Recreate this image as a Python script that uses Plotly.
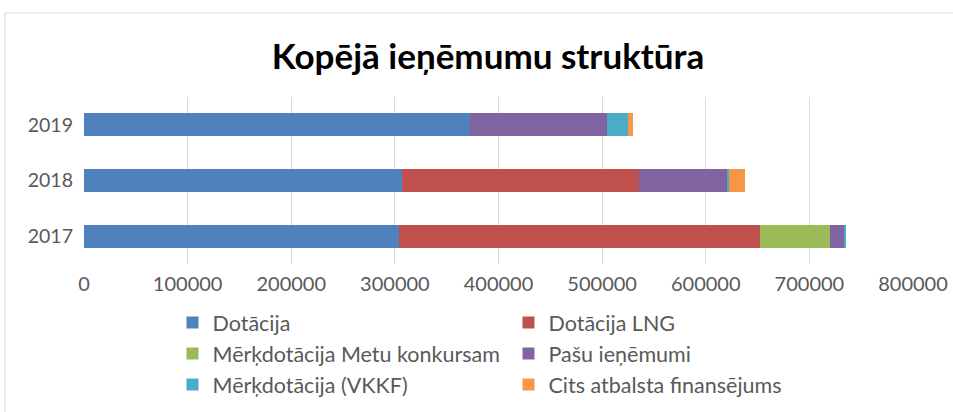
import plotly.graph_objects as go

years = ["2017", "2018", "2019"]
series_names = [
    "Dotācija",
    "Dotācija LNG",
    "Mērķdotācija Metu konkursam",
    "Pašu ieņēmumi",
    "Mērķdotācija (VKKF)",
    "Cits atbalsta finansējums",
]
dotacija = [304300, 306600, 372600]
dotacija_lng = [348200, 229100, 0]
merkdot_metu = [67600, 0, 0]
pasu_ienemumi = [13500, 85000, 132200]
merkdot_vkkf = [1900, 2000, 20300]
cits = [0, 15400, 4800]
x_ticks = [0, 100000, 200000, 300000, 400000, 500000, 600000, 700000, 800000]

values = [dotacija, dotacija_lng, merkdot_metu, pasu_ienemumi, merkdot_vkkf, cits]
colors = ["#4F81BD", "#C0504D", "#9BBB59", "#8064A2", "#4BACC6", "#F79646"]

fig = go.Figure()
for name, vals, col in zip(series_names, values, colors):
    fig.add_trace(go.Bar(y=years, x=vals, name=name, orientation="h",
                         marker=dict(color=col, line=dict(width=0))))

W, H = 953, 412
ml, mr, mt, mb = 84, 40, 96.5, 147.5
pw, ph = W - ml - mr, H - mt - mb

def px_to_paper_x(px):
    return (px - ml) / pw

def px_to_paper_y(py):
    return 1 - (py - mt) / ph

fig.update_layout(
    width=W, height=H,
    margin=dict(l=ml, r=mr, t=mt, b=mb, autoexpand=False),
    barmode="stack",
    bargap=0.59,
    plot_bgcolor="white",
    paper_bgcolor="white",
    font=dict(family="Lato, Carlito, Calibri, sans-serif", size=20, color="#595959"),
    title=dict(text="<b>Kopējā ieņēmumu struktūra</b>",
               font=dict(family="Lato, Carlito, Calibri, sans-serif", size=35, color="#000000"),
               x=488 / W, xref="container", xanchor="center",
               y=1 - 56.5 / H, yref="container", yanchor="middle"),
    xaxis=dict(range=[0, 800000], tickvals=x_ticks, ticktext=[str(v) for v in x_ticks],
               showgrid=True, gridcolor="#D9D9D9", gridwidth=1,
               zeroline=False, showline=False, ticks="", ticklabelstandoff=6,
               tickfont=dict(size=20), fixedrange=True),
    yaxis=dict(type="category", categoryorder="array", categoryarray=years,
               showgrid=False, zeroline=False, showline=False, ticks="",
               ticklabelstandoff=10, tickfont=dict(size=19.5), fixedrange=True),
    legend=dict(orientation="h", xref="container", yref="container",
                x=172.5 / W, xanchor="left", y=1 - 302 / H, yanchor="top",
                entrywidthmode="pixels", entrywidth=291,
                traceorder="normal",
                font=dict(size=21.5, color="#595959"),
                bgcolor="rgba(0,0,0,0)"),
    showlegend=True,
)

# chart-area border (left and top edges visible)
fig.add_shape(type="line", xref="paper", yref="paper",
              x0=px_to_paper_x(5), x1=px_to_paper_x(960),
              y0=px_to_paper_y(12), y1=px_to_paper_y(12),
              line=dict(color="#D9D9D9", width=1))
fig.add_shape(type="line", xref="paper", yref="paper",
              x0=px_to_paper_x(5), x1=px_to_paper_x(5),
              y0=px_to_paper_y(12), y1=px_to_paper_y(420),
              line=dict(color="#D9D9D9", width=1))

fig.write_html("out.html", config={"displayModeBar": False},
               post_script="document.body.style.margin='0';document.body.style.overflow='hidden';")
